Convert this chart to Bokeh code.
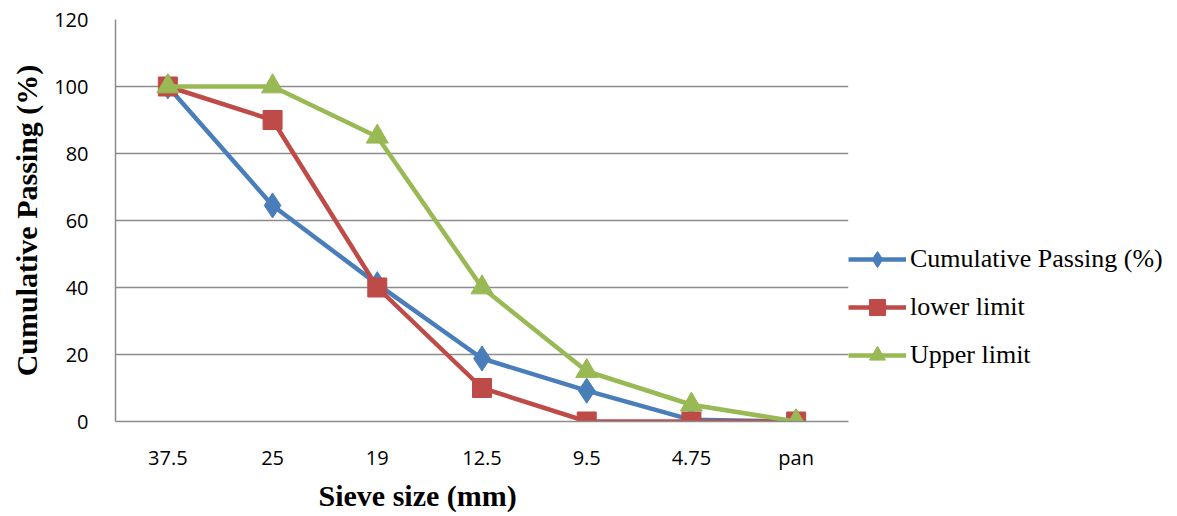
from bokeh.plotting import figure
from bokeh.models import FactorRange, Range1d, Legend, LegendItem, FixedTicker, Title
from bokeh.embed import file_html
from bokeh.resources import INLINE

sieve_sizes = ["37.5", "25", "19", "12.5", "9.5", "4.75", "pan"]
cumulative_passing = [100, 64.5, 41, 18.8, 9.2, 0.5, 0]
lower_limit = [100, 90, 40, 10, 0, 0, 0]
upper_limit = [100, 100, 85, 40, 15, 5, 0]
y_ticks = [0, 20, 40, 60, 80, 100, 120]

p = figure(frame_width=733, frame_height=402, x_range=FactorRange(factors=sieve_sizes, range_padding=0),
           y_range=Range1d(0, 120), output_backend="svg", toolbar_location=None,
           min_border_left=115, min_border_right=0, min_border_top=19, min_border_bottom=95)
p.outline_line_color = None
p.background_fill_color = "white"
p.border_fill_color = "white"

blue, red, green = "#4A7EBB", "#BE4B48", "#98B954"

l1 = p.line(sieve_sizes, cumulative_passing, line_color=blue, line_width=4.5)
m1 = p.scatter(sieve_sizes, cumulative_passing, marker="diamond", size=25, fill_color=blue, line_color=blue)
l2 = p.line(sieve_sizes, lower_limit, line_color=red, line_width=4.5)
m2 = p.scatter(sieve_sizes, lower_limit, marker="square", size=19, fill_color=red, line_color=red)
l3 = p.line(sieve_sizes, upper_limit, line_color=green, line_width=4.5)
m3 = p.scatter(sieve_sizes, upper_limit, marker="triangle", size=22, fill_color=green, line_color=green)

p.xgrid.grid_line_color = None
p.ygrid.grid_line_color = "#8C8C8C"
p.ygrid.grid_line_width = 1.5
p.yaxis.ticker = FixedTicker(ticks=y_ticks)

for ax in (p.xaxis[0], p.yaxis[0]):
    ax.axis_line_color = "#8C8C8C"
    ax.axis_line_width = 1.5
    ax.major_tick_line_color = None
    ax.minor_tick_line_color = None
    ax.major_label_text_font = "Open Sans"
    ax.major_label_text_font_size = "20px"
    ax.major_label_text_color = "black"
    ax.axis_label_text_font = "Liberation Serif"
    ax.axis_label_text_font_style = "bold"
    ax.axis_label_text_font_size = "30px"
    ax.axis_label_text_color = "black"

p.yaxis.axis_label = "Cumulative Passing (%)"
p.xaxis.major_label_standoff = 16
p.yaxis.major_label_standoff = 21
p.yaxis.axis_label_standoff = 8

xtitle = Title(text="Sieve size (mm)", align="left", offset=203,
               text_font="Liberation Serif", text_font_style="bold",
               text_font_size="30px", text_color="black", standoff=6)
p.add_layout(xtitle, "below")

legend = Legend(items=[
    LegendItem(label="Cumulative Passing (%)", renderers=[l1, m1]),
    LegendItem(label="lower limit", renderers=[l2, m2]),
    LegendItem(label="Upper limit", renderers=[l3, m3]),
], location=(0, 46))
legend.label_text_font = "Liberation Serif"
legend.label_text_font_size = "26px"
legend.label_text_color = "black"
legend.glyph_width = 58
legend.glyph_height = 40
legend.label_standoff = 4
legend.spacing = 8
legend.padding = 0
legend.margin = 0
legend.border_line_color = None
legend.background_fill_alpha = 0
p.add_layout(legend, "right")

open("out.html", "w").write(file_html(p, INLINE))
